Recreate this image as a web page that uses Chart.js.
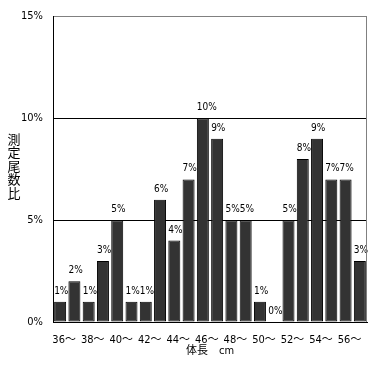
<!DOCTYPE html>
<html><head><meta charset="utf-8">
<script src="https://cdn.jsdelivr.net/npm/chart.js@4/dist/chart.umd.min.js"></script>
<style>html,body{margin:0;padding:0;background:#fff;overflow:hidden}</style>
</head><body>
<canvas id="c" width="382" height="367"></canvas>
<script>
const categories = ['36','37','38','39','40','41','42','43','44','45','46','47','48','49','50','51','52','53','54','55','56','57'];
const tickLabels = ['36～','','38～','','40～','','42～','','44～','','46～','','48～','','50～','','52～','','54～','','56～',''];
const values = [1,2,1,3,5,1,1,6,4,7,10,9,5,5,1,0,5,8,9,7,7,3];
const yTicks = [0,5,10,15];
const yTitle = '測定尾数比';
const xTitle = '体長　cm';

const FAMILY = '"Liberation Sans Narrow", "Arial Narrow", "DejaVu Sans Condensed", "Noto Sans CJK JP", sans-serif';
const CJK = '"Noto Sans CJK JP", sans-serif';

const decor = {
  id: 'decor',
  afterDraw(chart) {
    const {ctx, chartArea: a} = chart;
    ctx.save();
    ctx.strokeStyle = '#808080';
    ctx.lineWidth = 1;
    ctx.beginPath();
    ctx.moveTo(Math.round(a.right) - 0.5, a.top);
    ctx.lineTo(Math.round(a.right) - 0.5, a.bottom);
    ctx.stroke();
    ctx.fillStyle = '#000';
    ctx.font = '13px ' + CJK;
    ctx.textAlign = 'center';
    ctx.textBaseline = 'middle';
    Array.from(yTitle).forEach((ch, i) => ctx.fillText(ch, 14, 139 + i * 13.5));
    ctx.restore();
  },
  afterDatasetsDraw(chart) {
    const {ctx} = chart;
    const meta = chart.getDatasetMeta(0);
    ctx.save();
    ctx.fillStyle = '#000';
    ctx.font = '10px ' + FAMILY;
    ctx.textAlign = 'left';
    ctx.textBaseline = 'alphabetic';
    meta.data.forEach((el, i) => {
      const left = el.x - el.width / 2;
      ctx.fillText(values[i] + '%', left, el.y - 8);
    });
    ctx.restore();
  }
};

new Chart(document.getElementById('c'), {
  type: 'bar',
  data: {
    labels: categories,
    datasets: [{
      data: values,
      backgroundColor: '#333333',
      borderColor: '#000000',
      borderWidth: 1,
      borderSkipped: false,
      categoryPercentage: 1.0,
      barPercentage: 0.84
    }]
  },
  options: {
    responsive: false,
    animation: false,
    devicePixelRatio: 1,
    layout: {padding: {top: 15, right: 15, left: 0, bottom: 0}},
    plugins: {legend: {display: false}, tooltip: {enabled: false}},
    scales: {
      x: {
        grid: {display: false, drawTicks: false},
        border: {display: true, color: '#000', width: 1},
        ticks: {
          autoSkip: false, maxRotation: 0, minRotation: 0,
          color: '#000', padding: 12, labelOffset: 4,
          font: {size: 11, family: FAMILY},
          callback: (v, i) => tickLabels[i]
        },
        title: {display: true, text: xTitle, color: '#000', font: {size: 11, family: FAMILY}, padding: {top: 0, bottom: 9}},
        afterFit: s => { s.height = 45; }
      },
      y: {
        min: 0, max: 15,
        afterBuildTicks: s => { s.ticks = yTicks.map(v => ({value: v})); },
        grid: {drawTicks: false, color: c => (c.tick && c.tick.value === 15) ? '#808080' : '#000000'},
        border: {display: true, color: '#000', width: 1},
        ticks: {color: '#000', padding: 10, font: {size: 11, family: FAMILY}, callback: v => v + '%'},
        afterFit: s => { s.width = 53; }
      }
    }
  },
  plugins: [decor]
});
</script>
</body></html>
